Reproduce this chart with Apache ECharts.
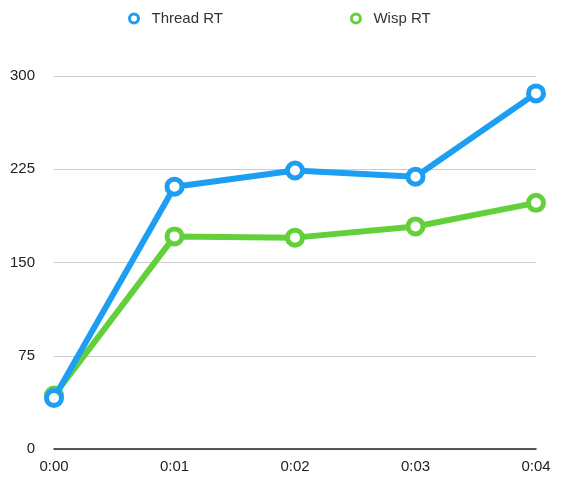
<!DOCTYPE html>
<html><head><meta charset="utf-8">
<script src="https://cdn.jsdelivr.net/npm/echarts@6/dist/echarts.min.js"></script>
<style>html,body{margin:0;padding:0;background:#fff}#c{width:567px;height:487px}</style>
</head><body><div id="c"></div>
<script>
const categories = ['0:00', '0:01', '0:02', '0:03', '0:04'];
const threadRT = [41, 211, 224, 219, 286];
const wispRT = [43, 171, 170, 179, 198];
const yTicks = [0, 75, 150, 225, 300];

const chart = echarts.init(document.getElementById('c'));
const font = 'Liberation Sans, Helvetica, Arial, sans-serif';
chart.setOption({
  animation: false,
  textStyle: { fontFamily: font },
  legend: {
    top: 6, left: 123, itemGap: 127, itemWidth: 9, itemHeight: 9,
    icon: 'circle',
    itemStyle: { borderWidth: 3 },
    textStyle: { fontSize: 15, color: '#333', fontFamily: font, padding: [0, 0, 0, 8] },
    data: ['Thread RT', 'Wisp RT']
  },
  grid: { left: 54, right: 31, top: 76, bottom: 38 },
  xAxis: {
    type: 'category', data: categories, boundaryGap: false,
    axisLine: { lineStyle: { color: '#222', width: 1.5 } },
    axisTick: { show: false },
    axisLabel: { color: '#222', fontSize: 15, margin: 10, fontFamily: font }
  },
  yAxis: {
    type: 'value', min: yTicks[0], max: yTicks[yTicks.length - 1], interval: 75,
    axisLine: { show: false }, axisTick: { show: false },
    axisLabel: { color: '#222', fontSize: 15, margin: 19, fontFamily: font },
    splitLine: { lineStyle: { color: '#cccccc', width: 1 } }
  },
  series: [
    {
      name: 'Thread RT', type: 'line', data: threadRT, z: 3,
      symbol: 'circle', symbolSize: 15,
      lineStyle: { color: '#1e9ef2', width: 6 },
      itemStyle: { color: '#ffffff', borderColor: '#1e9ef2', borderWidth: 5 }
    },
    {
      name: 'Wisp RT', type: 'line', data: wispRT, z: 2,
      symbol: 'circle', symbolSize: 15,
      lineStyle: { color: '#62d03b', width: 6 },
      itemStyle: { color: '#ffffff', borderColor: '#62d03b', borderWidth: 5 }
    }
  ]
});
</script></body></html>
